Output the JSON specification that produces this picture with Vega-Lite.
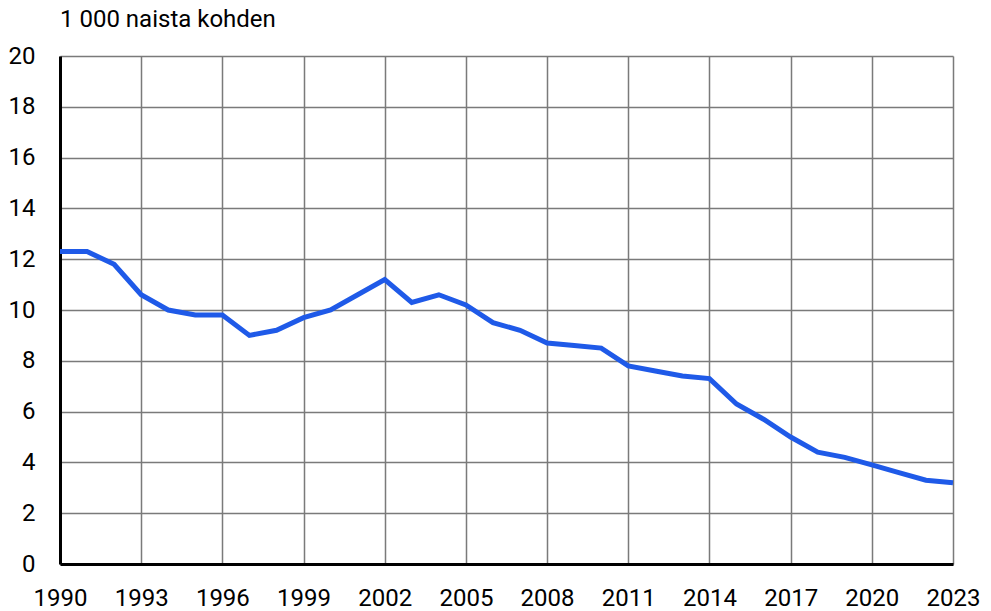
{
  "$schema": "https://vega.github.io/schema/vega-lite/v6.json",
  "width": 893,
  "height": 508,
  "autosize": {"type": "none"},
  "padding": {"left": 60, "top": 56, "right": 38, "bottom": 47},
  "background": "white",
  "title": {
    "text": "1 000 naista kohden",
    "anchor": "start",
    "frame": "group",
    "font": "Roboto",
    "fontSize": 24,
    "fontWeight": "normal",
    "color": "#000000",
    "offset": 12
  },
  "config": {
    "view": {"stroke": null},
    "axis": {
      "labelFont": "Roboto",
      "labelFontSize": 24,
      "labelColor": "#000000",
      "ticks": false,
      "gridColor": "#7a7a7a",
      "gridWidth": 1.5,
      "gridOpacity": 1,
      "domainColor": "#000000",
      "domainWidth": 3,
      "title": null
    }
  },
  "data": {
    "values": [
      {"year": 1990, "value": 12.3},
      {"year": 1991, "value": 12.3},
      {"year": 1992, "value": 11.8},
      {"year": 1993, "value": 10.6},
      {"year": 1994, "value": 10.0},
      {"year": 1995, "value": 9.8},
      {"year": 1996, "value": 9.8},
      {"year": 1997, "value": 9.0},
      {"year": 1998, "value": 9.2},
      {"year": 1999, "value": 9.7},
      {"year": 2000, "value": 10.0},
      {"year": 2001, "value": 10.6},
      {"year": 2002, "value": 11.2},
      {"year": 2003, "value": 10.3},
      {"year": 2004, "value": 10.6},
      {"year": 2005, "value": 10.2},
      {"year": 2006, "value": 9.5},
      {"year": 2007, "value": 9.2},
      {"year": 2008, "value": 8.7},
      {"year": 2009, "value": 8.6},
      {"year": 2010, "value": 8.5},
      {"year": 2011, "value": 7.8},
      {"year": 2012, "value": 7.6},
      {"year": 2013, "value": 7.4},
      {"year": 2014, "value": 7.3},
      {"year": 2015, "value": 6.3},
      {"year": 2016, "value": 5.7},
      {"year": 2017, "value": 5.0},
      {"year": 2018, "value": 4.4},
      {"year": 2019, "value": 4.2},
      {"year": 2020, "value": 3.9},
      {"year": 2021, "value": 3.6},
      {"year": 2022, "value": 3.3},
      {"year": 2023, "value": 3.2}
    ]
  },
  "mark": {"type": "line", "color": "#1f5ae8", "strokeWidth": 5, "strokeJoin": "miter"},
  "encoding": {
    "x": {
      "field": "year",
      "type": "quantitative",
      "scale": {"domain": [1990, 2023], "nice": false, "zero": false},
      "axis": {
        "values": [1990, 1993, 1996, 1999, 2002, 2005, 2008, 2011, 2014, 2017, 2020, 2023],
        "format": "d",
        "labelPadding": 22,
        "labelFlush": false,
        "labelOverlap": false
      }
    },
    "y": {
      "field": "value",
      "type": "quantitative",
      "scale": {"domain": [0, 20], "nice": false},
      "axis": {
        "values": [0, 2, 4, 6, 8, 10, 12, 14, 16, 18, 20],
        "format": "d",
        "labelPadding": 25,
        "labelFlush": false
      }
    }
  }
}
